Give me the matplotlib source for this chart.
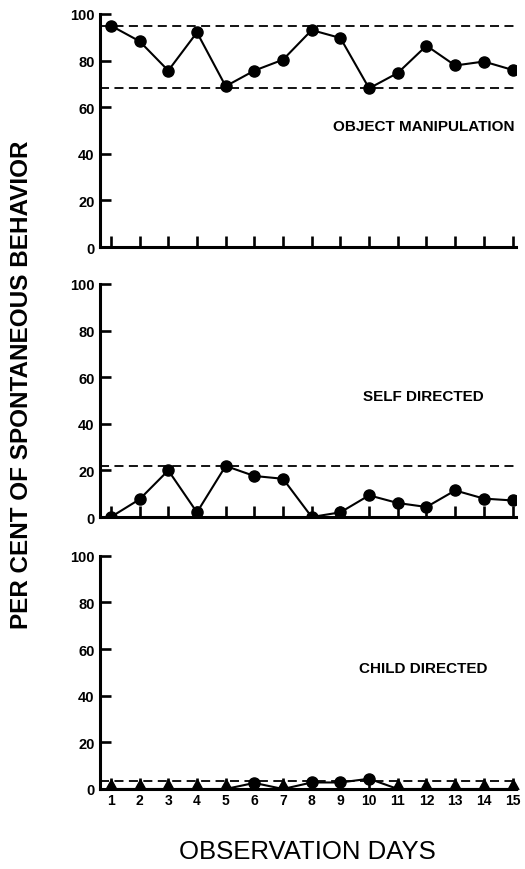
import matplotlib
matplotlib.use("Agg")
import matplotlib.pyplot as plt
from matplotlib import font_manager
from matplotlib.path import Path
import numpy as np

names = {f.name for f in font_manager.fontManager.ttflist}
NARROW = "Liberation Sans Narrow" if "Liberation Sans Narrow" in names else "Liberation Sans"

days = list(range(1, 16))
day_labels = [str(d) for d in days]
yticks = [0, 20, 40, 60, 80, 100]

object_manip = [95, 88.3, 75.7, 92.1, 69, 75.7, 80.4, 93.1, 89.7, 68.1, 74.7, 86.4, 77.9, 79.6, 76]
object_limits = [95, 68.3]

self_directed = [0, 7.6, 20, 2, 21.9, 17.6, 16.4, 0, 2, 9.3, 6, 4.3, 11.4, 7.9, 7.1]
self_limits = [21.9]

child_directed = [0, 0, 0, 0, 0, 2.6, 0, 2.8, 2.8, 4.4, 0, 0, 0, 0, 0]
child_markers = ['^', '^', '^', '^', '^', 'o', '^', 'o', 'o', 'o', '^', '^', '^', '^', '^']
child_limits = [3.5]

panel_titles = ["OBJECT MANIPULATION", "SELF DIRECTED", "CHILD DIRECTED"]
ylabel = "PER CENT OF SPONTANEOUS BEHAVIOR"
xlabel = "OBSERVATION DAYS"

fig = plt.figure(figsize=(5.25, 8.7), dpi=100)
W, H = 525, 870
left_px, right_px = 100, 516
panels_px = [(15, 248), (285, 518), (556.7, 790)]

tri = Path([(-1, 0), (1, 0), (0, 1.8), (-1, 0)], [Path.MOVETO, Path.LINETO, Path.LINETO, Path.CLOSEPOLY])

series = [object_manip, self_directed, child_directed]
limits = [object_limits, self_limits, child_limits]
tick_font = dict(family="Liberation Sans", weight="bold", size=10.5)
xtick_font = dict(family="Liberation Sans", weight="bold", size=10)

for i, (top, bot) in enumerate(panels_px):
    ax = fig.add_axes([left_px / W, 1 - bot / H, (right_px - left_px) / W, (bot - top) / H])
    ax.set_xlim(0.62, 15.12)
    ax.set_ylim(0, 100)
    for s in ["top", "right"]:
        ax.spines[s].set_visible(False)
    for s in ["left", "bottom"]:
        ax.spines[s].set_linewidth(2.2)
    ax.set_xticks(days)
    ax.set_yticks(yticks)
    ax.tick_params(axis="x", direction="in", length=8, width=1.9, pad=3)
    ax.tick_params(axis="y", direction="in", length=8, width=1.9, pad=4)
    ax.set_yticklabels([str(v) for v in yticks], fontdict=tick_font)
    if i == 2:
        ax.set_xticklabels(day_labels, fontdict=xtick_font)
    else:
        ax.set_xticklabels([])
    for lv in limits[i]:
        ax.axhline(lv, color="black", lw=1.3, ls=(0, (5, 3)), zorder=1)
    vals = series[i]
    if i < 2:
        ax.plot(days, vals, color="black", lw=1.5, marker="o", ms=8, zorder=3)
    else:
        ax.plot(days, vals, color="black", lw=1.5, zorder=3)
        cx = [d for d, m in zip(days, child_markers) if m == 'o']
        cy = [v for v, m in zip(vals, child_markers) if m == 'o']
        tx = [d for d, m in zip(days, child_markers) if m == '^']
        ty = [v for v, m in zip(vals, child_markers) if m == '^']
        ax.plot(cx, cy, ls="none", marker="o", ms=8, color="black", zorder=4)
        ax.plot(tx, ty, ls="none", marker=tri, ms=14, color="black", zorder=4, clip_on=False)
    ax.text(11.9, 52, panel_titles[i], ha="center", va="center",
            family="Liberation Sans", weight="bold", size=11)

fig.text(22 / W, 1 - 385 / H, ylabel, rotation=90, ha="center", va="center",
         family=NARROW, weight="bold", size=17.5)
fig.text(307.5 / W, 1 - 852 / H, xlabel, ha="center", va="center",
         family=NARROW, weight="normal", size=18.5)

fig.savefig("out.png", dpi=100)
